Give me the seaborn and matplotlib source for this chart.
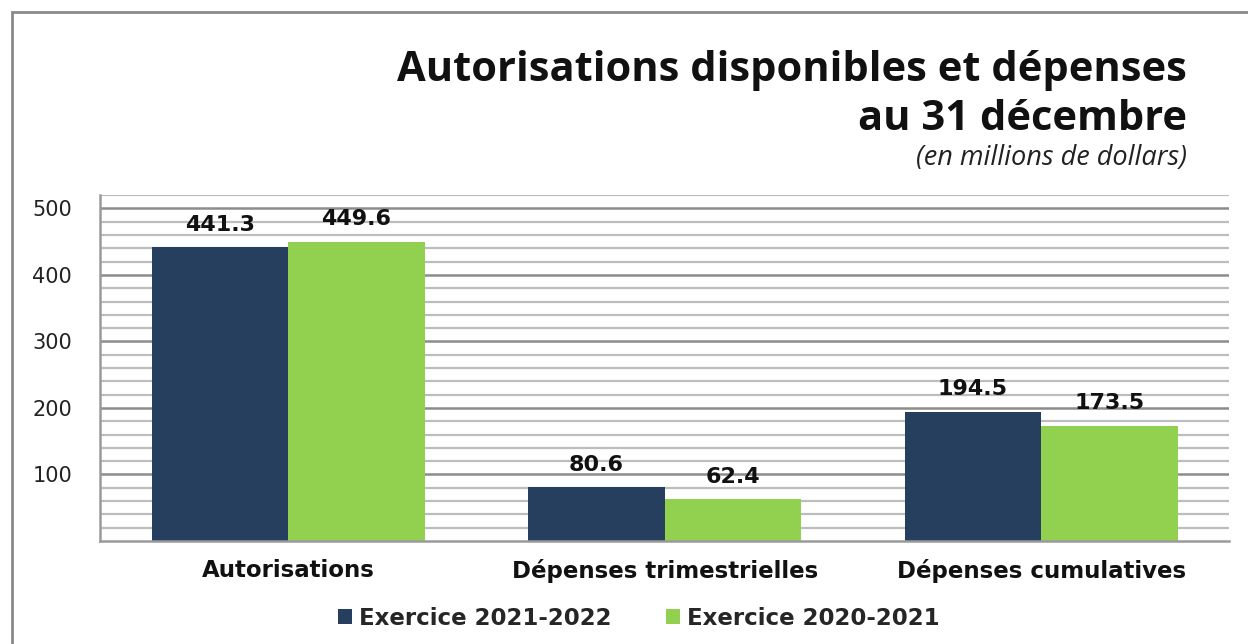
import matplotlib
matplotlib.use("Agg")
import matplotlib.pyplot as plt
import seaborn as sns
import pandas as pd
import numpy as np
from matplotlib.patches import Rectangle, Patch

categories = ["Autorisations", "Dépenses trimestrielles", "Dépenses cumulatives"]
series_names = ["Exercice 2021-2022", "Exercice 2020-2021"]
values_2122 = [441.3, 80.6, 194.5]
values_2021 = [449.6, 62.4, 173.5]
colors = ["#263F5F", "#92D050"]
yticks = [100, 200, 300, 400, 500]

df = pd.DataFrame({
    "cat": categories * 2,
    "serie": [series_names[0]] * 3 + [series_names[1]] * 3,
    "val": values_2122 + values_2021,
})

sns.set_theme(style="white")
plt.rcParams["font.family"] = ["DejaVu Sans"]

fig = plt.figure(figsize=(12.48, 6.44), dpi=100)
ax = fig.add_axes([0.0801, 0.16, 0.905, 0.537])

sns.barplot(data=df, x="cat", y="val", hue="serie", palette=colors,
            width=0.726, gap=0, saturation=1, ax=ax, legend=False,
            edgecolor="none", linewidth=0)

ax.set_ylim(0, 520)
ax.set_xlim(-0.5, 2.5)
ax.set_yticks(yticks)
ax.set_yticklabels([str(t) for t in yticks], fontsize=15, color="#222222")
ax.tick_params(axis="y", length=0, pad=20)
ax.tick_params(axis="x", length=0, pad=13)
ax.set_xticks(range(3))
ax.set_xticklabels(categories, fontsize=16.5, fontweight="bold", color="#111111")
ax.set_xlabel("")
ax.set_ylabel("")

for y in np.arange(20, 521, 20):
    major = (y % 100 == 0)
    ax.axhline(y, color="#8C8C8C" if major else "#BDBDBD",
               lw=1.8 if major else 1.6, zorder=0)

for s in ["top", "right"]:
    ax.spines[s].set_visible(False)
ax.spines["left"].set_color("#9A9A9A")
ax.spines["left"].set_linewidth(1.8)
ax.spines["bottom"].set_color("#9A9A9A")
ax.spines["bottom"].set_linewidth(1.8)

for cont in ax.containers:
    ax.bar_label(cont, fmt="%.1f", padding=9, fontsize=16,
                 fontweight="bold", color="#111111")

handles = [Patch(facecolor=c, edgecolor="none") for c in colors]
fig.legend(handles, series_names, loc="center", bbox_to_anchor=(0.512, 0.04),
           ncol=2, frameon=False,
           prop={"weight": "bold", "size": 16.5},
           handlelength=0.6, handleheight=0.6, handletextpad=0.3,
           columnspacing=2.4)

fig.text(0.951, 0.891, "Autorisations disponibles et dépenses",
         ha="right", va="center", fontsize=30, fontweight="bold",
         family=["Open Sans", "DejaVu Sans"], color="#111111")
fig.text(0.951, 0.814, "au 31 décembre",
         ha="right", va="center", fontsize=30, fontweight="bold",
         family=["Open Sans", "DejaVu Sans"], color="#111111")
fig.text(0.951, 0.754, "(en millions de dollars)",
         ha="right", va="center", fontsize=19.5, style="italic",
         family=["Open Sans", "DejaVu Sans"], color="#222222")

fig.patches.append(Rectangle((12 / 1248, -0.05), 1.2, (644 - 12) / 644 + 0.05,
                             transform=fig.transFigure, fill=False,
                             edgecolor="#8A8A8A", lw=2))

fig.savefig("out.png", dpi=100)
